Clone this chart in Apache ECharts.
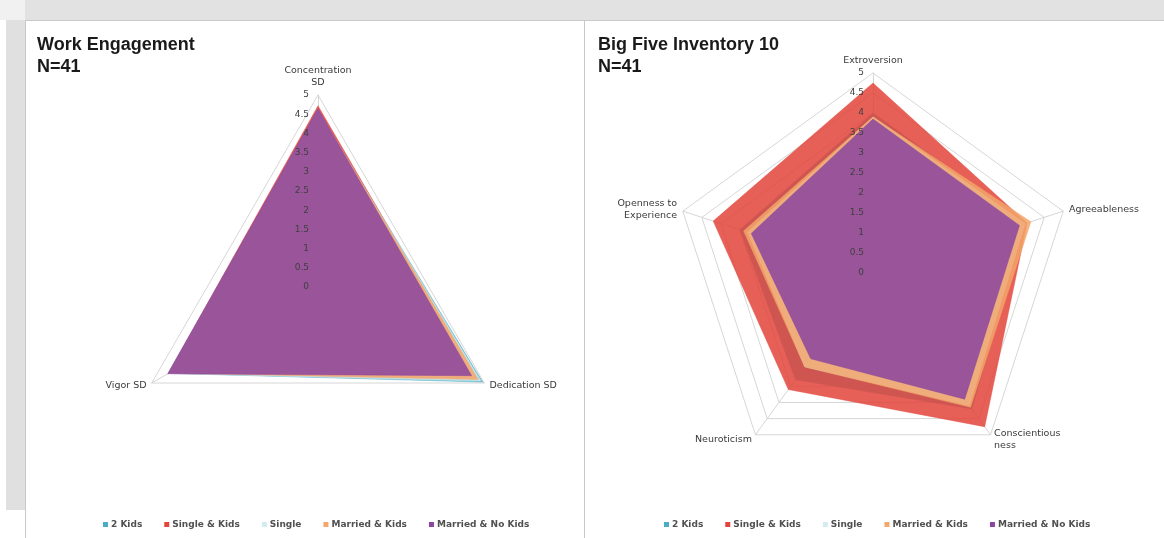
<!DOCTYPE html>
<html>
<head>
<meta charset="utf-8">
<script src="https://cdn.jsdelivr.net/npm/echarts@6/dist/echarts.min.js"></script>
<style>
  html, body { margin: 0; padding: 0; width: 1164px; height: 538px; background: #ffffff; overflow: hidden; }
  .bg { position: absolute; }
  #chart { position: absolute; left: 0; top: 0; width: 1164px; height: 538px; }
</style>
</head>
<body>
<div class="bg" style="left:0;top:0;width:1164px;height:20px;background:#e2e2e2;"></div>
<div class="bg" style="left:0;top:0;width:25px;height:20px;background:#f1f1f1;"></div>
<div class="bg" style="left:6px;top:20px;width:19px;height:490px;background:#e0e0e0;"></div>
<div class="bg" style="left:25px;top:20px;width:558px;height:517px;border:1px solid #c9c9c9;background:#fff;"></div>
<div class="bg" style="left:584px;top:20px;width:579px;height:517px;border-top:1px solid #c9c9c9;border-left:1px solid #c9c9c9;background:#fff;"></div>
<div id="chart"></div>
<script>
// ---- data ----
const seriesNames = ['2 Kids', 'Single & Kids', 'Single', 'Married & Kids', 'Married & No Kids'];
const seriesColors = ['#4bacc6', '#e3443b', '#d3ecf2', '#f5a66a', '#8a45a0'];

// Work Engagement (counter-clockwise from top)
const weIndicators = ['Concentration\nSD', 'Vigor SD', 'Dedication SD'];
const we2Kids        = [4.60, 4.50, 4.95];
const weSingleKids   = [4.72, 4.50, 4.75];
const weSingle       = [4.60, 4.50, 4.90];
const weMarriedKids  = [4.62, 4.48, 4.82];
const weMarriedNoKids= [4.65, 4.52, 4.62];

// Big Five Inventory 10 (counter-clockwise from top)
const bfIndicators = ['Extroversion', 'Openness to\nExperience', 'Neuroticism', 'Conscientious\nness', 'Agreeableness'];
const bf2Kids        = [4.00, 3.50, 3.30, 4.20, 4.00];
const bfSingleKids   = [4.75, 4.20, 3.60, 4.75, 4.05];
const bfSingle       = [3.90, 3.30, 2.90, 4.10, 4.00];
const bfMarriedKids  = [3.90, 3.40, 2.90, 4.15, 4.15];
const bfMarriedNoKids= [3.85, 3.20, 2.65, 3.90, 3.85];

const tickLabels = ['0','0.5','1','1.5','2','2.5','3','3.5','4','4.5','5'];

const weValues = [we2Kids, weSingleKids, weSingle, weMarriedKids, weMarriedNoKids];
const bfValues = [bf2Kids, bfSingleKids, bfSingle, bfMarriedKids, bfMarriedNoKids];

// ---- layout ----
const L = { cx: 318, cy: 287, r: 192 };
const R = { cx: 873, cy: 273, r: 200 };
const opac = [0.85, 0.85, 0.85, 0.85, 0.86];
const FONT = 'DejaVu Sans';

function radarDef(names, pos) {
  return {
    center: [pos.cx, pos.cy],
    radius: pos.r,
    startAngle: 90,
    splitNumber: 10,
    shape: 'polygon',
    indicator: names.map(n => ({ name: n, min: 0, max: 5 })),
    axisName: { color: '#3a3a3a', fontSize: 9.5, fontFamily: FONT, lineHeight: 12 },
    nameGap: 6,
    splitArea: { show: false },
    splitLine: { lineStyle: { color: '#d6d6d6', width: 1 } },
    axisLine: { lineStyle: { color: '#d6d6d6', width: 1 } },
    axisTick: { show: false },
    axisLabel: { show: false }
  };
}

function radarSeries(idx, values) {
  return {
    type: 'radar',
    radarIndex: idx,
    symbol: 'none',
    silent: true,
    data: values.map((v, i) => ({
      name: seriesNames[i],
      value: v,
      itemStyle: { color: seriesColors[i] },
      lineStyle: { color: seriesColors[i], width: 0.5, opacity: 0.9 },
      areaStyle: { color: seriesColors[i], opacity: opac[i] }
    }))
  };
}

function gridFor(pos) {
  return { left: pos.cx - 1, top: pos.cy - pos.r, width: 1, height: pos.r, containLabel: false };
}

function yAxisFor(gi) {
  return {
    type: 'value', gridIndex: gi, min: 0, max: 5, interval: 0.5,
    axisLine: { show: false }, axisTick: { show: false }, splitLine: { show: false },
    axisLabel: {
      color: '#404040', fontSize: 9, fontFamily: FONT, margin: 8,
      formatter: v => tickLabels[Math.round(v * 2)]
    },
    z: 10
  };
}

function legendFor(left) {
  return {
    left: left, top: 515, orient: 'horizontal',
    data: seriesNames, icon: 'rect', itemWidth: 5, itemHeight: 5, itemGap: 22,
    textStyle: { color: '#505050', fontSize: 9, fontWeight: 'bold', fontFamily: FONT, padding: [0, 0, 0, -2] },
    selectedMode: false
  };
}

const chart = echarts.init(document.getElementById('chart'), null, { renderer: 'canvas' });
chart.setOption({
  animation: false,
  backgroundColor: 'transparent',
  title: [
    { text: 'Work Engagement\nN=41', left: 32, top: 29,
      textStyle: { fontSize: 18, fontWeight: 'bold', color: '#1a1a1a', fontFamily: 'Liberation Sans', lineHeight: 22 } },
    { text: 'Big Five Inventory 10\nN=41', left: 593, top: 29,
      textStyle: { fontSize: 18, fontWeight: 'bold', color: '#1a1a1a', fontFamily: 'Liberation Sans', lineHeight: 22 } }
  ],
  radar: [radarDef(weIndicators, L), radarDef(bfIndicators, R)],
  grid: [gridFor(L), gridFor(R)],
  xAxis: [
    { type: 'value', gridIndex: 0, show: false },
    { type: 'value', gridIndex: 1, show: false }
  ],
  yAxis: [yAxisFor(0), yAxisFor(1)],
  legend: [legendFor(98), legendFor(659)],
  series: [radarSeries(0, weValues), radarSeries(1, bfValues)]
});
</script>
</body>
</html>
